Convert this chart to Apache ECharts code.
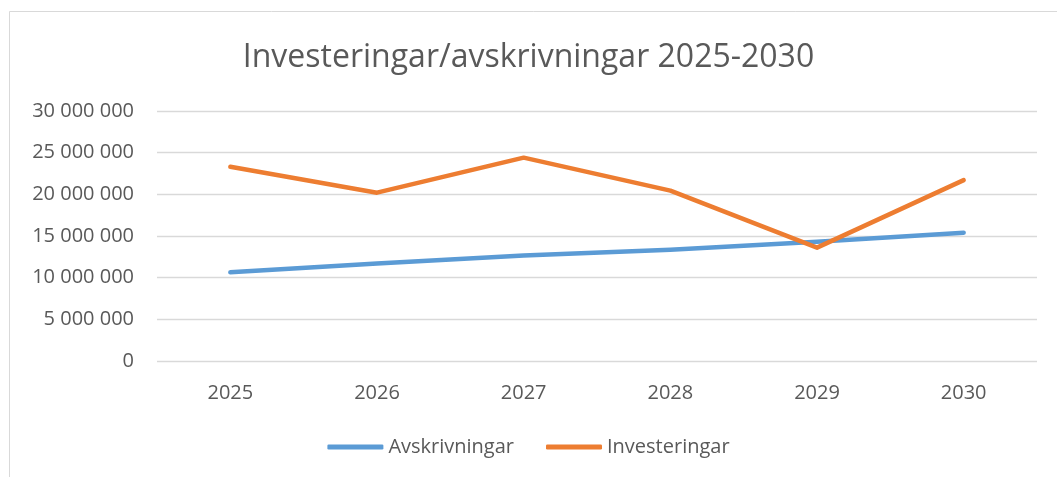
<!DOCTYPE html>
<html>
<head>
<meta charset="utf-8">
<script src="https://cdn.jsdelivr.net/npm/echarts@6/dist/echarts.min.js"></script>
<style>
  html, body { margin: 0; padding: 0; background: #fff; }
  #main { width: 1057px; height: 477px; }
</style>
</head>
<body>
<div id="main"></div>
<script>
const years = ['2025', '2026', '2027', '2028', '2029', '2030'];
const avskrivningar = [10650000, 11700000, 12650000, 13350000, 14300000, 15400000];
const investeringar = [23300000, 20200000, 24400000, 20450000, 13600000, 21700000];

const FONT = '"Open Sans", sans-serif';
const GREY = '#595959';

// 30000000 -> "30 000 000"
function spaced(v) {
  return String(v).replace(/\B(?=(\d{3})+(?!\d))/g, ' ');
}

const chart = echarts.init(document.getElementById('main'), null, { renderer: 'canvas' });

chart.setOption({
  animation: false,
  backgroundColor: '#fff',
  graphic: [{
    type: 'rect',
    shape: { x: 9.5, y: 11.5, width: 1100, height: 600 },
    style: { fill: 'none', stroke: '#d9d9d9', lineWidth: 1 },
    silent: true
  }],
  title: {
    text: 'Investeringar/avskrivningar 2025-2030',
    left: 'center',
    top: 37,
    textStyle: { fontFamily: FONT, fontSize: 32, fontWeight: 'normal', color: GREY }
  },
  legend: {
    bottom: 15,
    left: 'center',
    icon: 'roundRect',
    itemWidth: 56,
    itemHeight: 5,
    itemGap: 32,
    textStyle: { fontFamily: FONT, fontSize: 20, color: GREY }
  },
  grid: { left: 157, right: 20, top: 111, bottom: 116, containLabel: false },
  xAxis: {
    type: 'category',
    data: years,
    boundaryGap: true,
    axisLine: { show: false },
    axisTick: { show: false },
    axisLabel: { fontFamily: FONT, fontSize: 20, color: GREY, margin: 22 }
  },
  yAxis: {
    type: 'value',
    min: 0,
    max: 30000000,
    interval: 5000000,
    axisLine: { show: false },
    axisTick: { show: false },
    splitLine: { lineStyle: { color: '#d9d9d9', width: 1.3 } },
    axisLabel: { fontFamily: FONT, fontSize: 20, color: GREY, margin: 23, formatter: spaced }
  },
  series: [
    {
      name: 'Avskrivningar',
      type: 'line',
      data: avskrivningar,
      showSymbol: false,
      color: '#5b9bd5',
      lineStyle: { width: 4.5, cap: 'round', join: 'round' }
    },
    {
      name: 'Investeringar',
      type: 'line',
      data: investeringar,
      showSymbol: false,
      color: '#ed7d31',
      lineStyle: { width: 4.5, cap: 'round', join: 'round' }
    }
  ]
});
</script>
</body>
</html>
